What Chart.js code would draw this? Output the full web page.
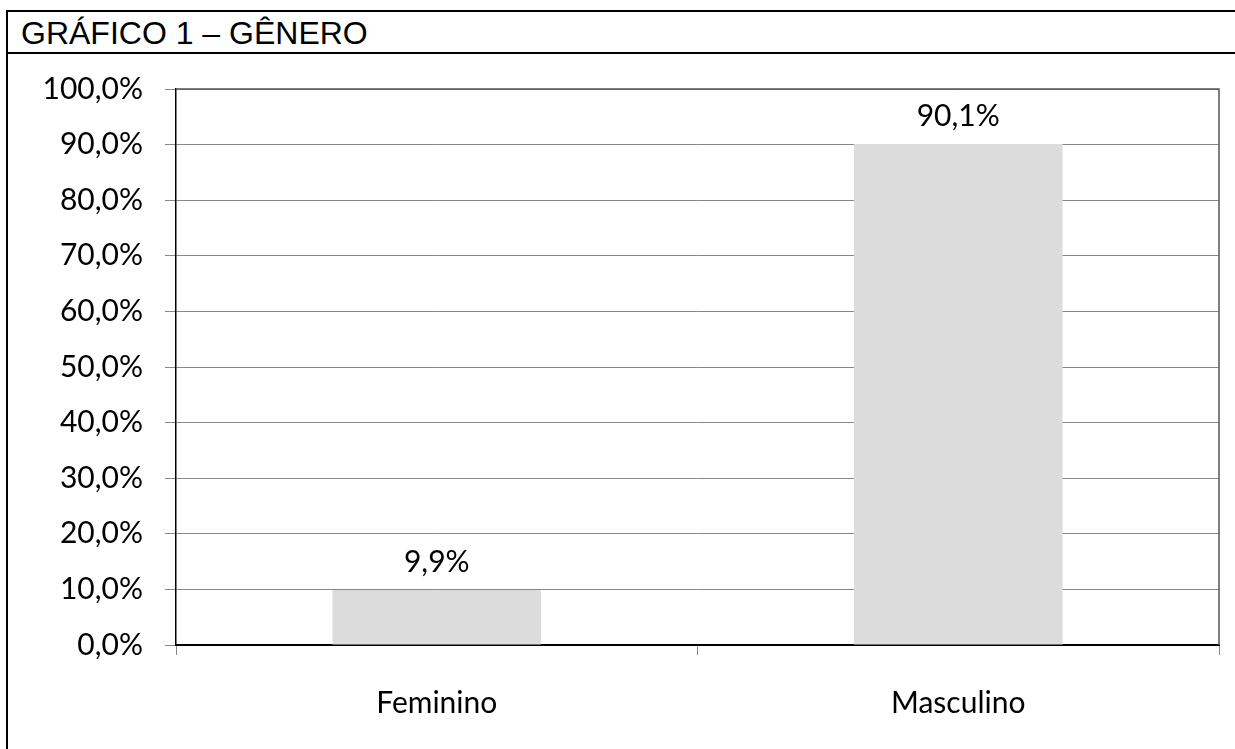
<!DOCTYPE html>
<html>
<head>
<meta charset="utf-8">
<script src="https://cdn.jsdelivr.net/npm/chart.js@4/dist/chart.umd.min.js"></script>
<style>
  html, body { margin: 0; padding: 0; background: #fff; }
  body { width: 1235px; height: 749px; overflow: hidden; position: relative; }
  .box {
    position: absolute; left: 6px; top: 10px; width: 1240px; height: 760px;
    border: 2px solid #000; box-sizing: border-box;
  }
  .title {
    position: absolute; left: 0; top: 0; right: 0; height: 40px;
    border-bottom: 2px solid #000;
    font-family: "Liberation Sans", Arial, sans-serif; font-size: 32px;
    line-height: 42px; padding-left: 13px; color: #000;
  }
  #wrap { position: absolute; left: 8px; top: 49px; width: 1227px; height: 700px; }
</style>
</head>
<body>
<div class="box"><div class="title">GRÁFICO 1 – GÊNERO</div></div>
<div id="wrap"><canvas id="generoChart"></canvas></div>
<script>
document.addEventListener("DOMContentLoaded", function () {
  // Dados do gráfico
  const categorias = ["Feminino", "Masculino"];
  const percentuais = [9.9, 90.1];
  const yTicks = [0, 10, 20, 30, 40, 50, 60, 70, 80, 90, 100];

  const fmt = function (v, casas) {
    return v.toFixed(casas).replace(".", ",") + "%";
  };

  const labelFont = "Lato, 'Open Sans', sans-serif";

  // rótulos acima das barras + borda da área de plotagem
  const extras = {
    id: "extras",
    afterDatasetsDraw(chart) {
      const ctx = chart.ctx;
      const meta = chart.getDatasetMeta(0);
      ctx.save();
      ctx.fillStyle = "#000";
      ctx.font = "30px " + labelFont;
      ctx.textAlign = "center";
      ctx.textBaseline = "alphabetic";
      meta.data.forEach(function (bar, i) {
        ctx.fillText(fmt(percentuais[i], 1), bar.x, bar.y - 18);
      });
      const a = chart.chartArea;
      ctx.strokeStyle = "#555";
      ctx.lineWidth = 1.5;
      ctx.beginPath();
      ctx.moveTo(a.left, a.top);
      ctx.lineTo(a.right, a.top);
      ctx.lineTo(a.right, a.bottom);
      ctx.stroke();
      ctx.restore();
    },
  };

  const generoChart = new Chart(document.getElementById("generoChart"), {
    type: "bar",
    data: {
      labels: categorias,
      datasets: [
        {
          data: percentuais,
          backgroundColor: "#dcdcdc",
          borderWidth: 0,
          barPercentage: 0.4,
          categoryPercentage: 1,
        },
      ],
    },
    options: {
      responsive: true,
      maintainAspectRatio: false,
      animation: false,
      layout: { padding: { top: 0, right: 16, left: 0, bottom: 0 } },
      plugins: { legend: { display: false }, tooltip: { enabled: false } },
      scales: {
        x: {
          grid: {
            offset: true,
            drawOnChartArea: false,
            color: "#888",
            tickLength: 10,
          },
          border: { color: "#000", width: 2 },
          ticks: {
            color: "#000",
            font: { family: labelFont, size: 30 },
            padding: 30,
          },
          afterFit(scale) { scale.height = 104; },
        },
        y: {
          min: 0,
          max: 100,
          afterBuildTicks(scale) {
            scale.ticks = yTicks.map(function (v) { return { value: v }; });
          },
          grid: { color: "#888", lineWidth: 1, tickLength: 11 },
          border: { color: "#000", width: 1.5 },
          ticks: {
            color: "#000",
            font: { family: labelFont, size: 30 },
            padding: 22,
            callback: function (v) { return fmt(v, 1); },
          },
          afterFit(scale) { scale.width = 168; },
        },
      },
    },
    plugins: [extras],
  });
});
</script>
</body>
</html>
